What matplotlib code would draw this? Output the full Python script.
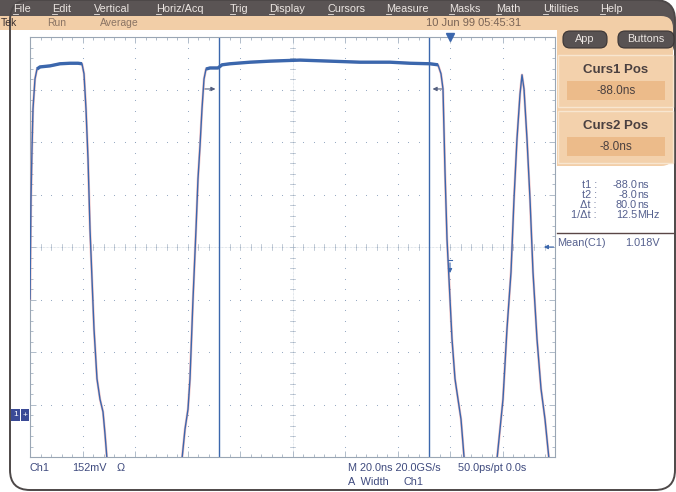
import matplotlib
matplotlib.use("Agg")
import matplotlib.pyplot as plt
import numpy as np
from matplotlib.patches import FancyBboxPatch, Rectangle

plt.rcParams["font.family"] = ["Liberation Sans", "DejaVu Sans"]

# --- waveform, time in ns, amplitude in divisions ---
trace_t = [-160.0, -159.62, -159.24, -158.86, -158.10, -157.33, -156.19, -152.38,
           -148.57, -144.76, -141.71, -140.19, -139.43, -138.67, -137.90, -137.14,
           -135.62, -134.48, -133.33, -132.19, -131.43, -130.67, -129.5, -103.6,
           -102.10, -100.95, -99.81, -99.05, -97.90, -96.76, -96.00, -95.24,
           -94.48, -93.71, -92.95, -91.43, -88.38, -86.86, -83.81, -76.19,
           -68.57, -57.14, -45.71, -34.29, -22.86, -15.24, -7.62, -4.57,
           -3.43, -2.67, -1.90, -1.14, -0.38, 0.76, 1.90, 3.05,
           4.19, 4.95, 5.71, 7.62, 16.38, 17.90, 19.05, 20.19,
           21.71, 23.24, 24.38, 25.52, 26.67, 27.43, 28.19, 29.33,
           30.48, 31.62, 33.14, 34.67, 36.19, 36.95, 37.71, 38.48]
trace_v = [-0.99, 0.91, 1.87, 2.63, 3.20, 3.39, 3.43, 3.45,
           3.49, 3.50, 3.50, 3.49, 3.30, 2.63, 1.68, 0.34,
           -1.56, -2.51, -2.90, -3.14, -3.56, -4.04, -5.2, -5.2,
           -4.04, -3.47, -3.09, -2.51, -0.99, 0.34, 1.30, 1.92,
           2.63, 3.20, 3.39, 3.41, 3.41, 3.47, 3.49, 3.52,
           3.54, 3.56, 3.54, 3.52, 3.52, 3.50, 3.49, 3.47,
           3.30, 3.01, 1.43, 0.15, -0.61, -1.75, -2.51, -2.90,
           -3.28, -3.75, -4.23, -5.2, -5.2, -4.04, -3.47, -2.90,
           -1.56, -0.48, 0.91, 2.06, 2.91, 3.28, 3.01, 2.06,
           0.91, -0.48, -1.75, -2.70, -3.28, -3.66, -4.04, -5.2]

cursor1_ns = -88.0
cursor2_ns = -8.0
mean_level_div = 0.0
trigger_ns = 0.0

menu_items = ["File", "Edit", "Vertical", "Horiz/Acq", "Trig", "Display",
              "Cursors", "Measure", "Masks", "Math", "Utilities", "Help"]
menu_x = [13, 52, 94, 156, 230, 269, 328, 386, 449, 496, 543, 600]

readout_labels = ["t1 :", "t2 :", "\u0394t :", "1/\u0394t :"]
readout_nums = ["-88.0", "-8.0", "80.0", "12.5"]
readout_units = ["ns", "ns", "ns", "MHz"]

BLUE = "#3b67ad"
DARK = "#5a5454"
BEIGE = "#f2cea7"
TXT = "#3e4a7e"
READ = "#55608e"

fig = plt.figure(figsize=(6.76, 4.92), dpi=100)
bg = fig.add_axes([0, 0, 1, 1])
bg.set_xlim(0, 676)
bg.set_ylim(492, 0)
bg.axis("off")

# frame, menu bar and beige panels
bg.add_patch(FancyBboxPatch((-30, 0), 705, 60, boxstyle="round,pad=0,rounding_size=20",
                            fc=DARK, ec="none", zorder=1))
bg.add_patch(FancyBboxPatch((-30, 16), 703, 150, boxstyle="round,pad=0,rounding_size=12",
                            fc=BEIGE, ec="none", zorder=2))
bg.add_patch(Rectangle((0, 30), 557, 462, fc="white", ec="none", zorder=3))
bg.add_patch(Rectangle((557, 166), 118, 326, fc="white", ec="none", zorder=3))
bg.add_patch(FancyBboxPatch((10, 0), 665, 490, boxstyle="round,pad=0,rounding_size=20",
                            fc="none", ec="#4d4848", lw=1.4, zorder=4))

for name, x in zip(menu_items, menu_x):
    bg.text(x, 8.5, name, color="#ece6e2", fontsize=7.8, va="center", ha="left", zorder=5)
    bg.plot([x, x + 5], [13.8, 13.8], color="#ece6e2", lw=0.6, zorder=5)

bg.text(1, 23.5, "Tek", color="#3a3030", fontsize=7.5, va="center", zorder=5)
bg.text(47, 23.5, "Run", color="#8a7464", fontsize=7.5, va="center", zorder=5)
bg.text(100, 23.5, "Average", color="#8a7464", fontsize=7.5, va="center", zorder=5)
bg.text(474, 23.5, "10 Jun 99 05:45:31", color="#7a6456", fontsize=8, va="center",
        ha="center", zorder=5)

# buttons
for x0, w, label in [(563, 44, "App"), (618, 56, "Buttons")]:
    bg.add_patch(FancyBboxPatch((x0, 31), w, 17, boxstyle="round,pad=0,rounding_size=7",
                                fc="#585252", ec="#3a3434", lw=0.8, zorder=5))
    bg.text(x0 + w / 2, 39.5, label, color="#ece6e2", fontsize=7.8, ha="center",
            va="center", zorder=6)

# cursor position boxes
for y0, title, val in [(55, "Curs1 Pos", "-88.0ns"), (111, "Curs2 Pos", "-8.0ns")]:
    bg.add_patch(Rectangle((558, y0), 115, 52, fc="#f3d1ac", ec="#f8e6d0", lw=1, zorder=5))
    bg.text(616, y0 + 15, title, color="#4a4040", fontsize=9.5, fontweight="bold",
            ha="center", va="center", zorder=6)
    bg.add_patch(Rectangle((567, y0 + 26), 98, 19, fc="#ecbb8a", ec="none", zorder=6))
    bg.text(616, y0 + 35.5, val, color="#4a4040", fontsize=8.5, ha="center", va="center",
            zorder=7)

for i, (lab, num, unit) in enumerate(zip(readout_labels, readout_nums, readout_units)):
    y = 185 + i * 10
    bg.text(597, y, lab, color=READ, fontsize=7.8, ha="right", va="center", zorder=5)
    bg.text(637, y, num, color=READ, fontsize=7.8, ha="right", va="center", zorder=5)
    bg.text(637, y, unit, color=READ, fontsize=7.8, ha="left", va="center", zorder=5)

bg.plot([557, 673], [233, 233], color="#5a4646", lw=1.0, zorder=5)
bg.text(557, 243.5, "Mean(C1)", color=READ, fontsize=7.8, va="center", zorder=5)
bg.text(660, 243.5, "1.018V", color=READ, fontsize=7.8, ha="right", va="center", zorder=5)

# bottom status text
for x, y, s in [(30, 468, "Ch1"), (72, 468, "152mV"), (117, 468, "\u03a9"),
                (348, 468, "M 20.0ns 20.0GS/s"), (458, 468, "50.0ps/pt 0.0s"),
                (348, 482, "A  Width"), (404, 482, "Ch1")]:
    bg.text(x, y, s, color=TXT, fontsize=7.8, va="center", zorder=5)

# channel 1 ground marker
bg.add_patch(Rectangle((11, 409), 9, 12, fc="#3a4a96", ec="none", zorder=5))
bg.text(15.5, 415, "1", color="white", fontsize=6, ha="center", va="center", zorder=6)
bg.add_patch(Rectangle((21, 409), 8, 12, fc="#3a4a96", ec="none", zorder=5))
bg.text(25, 415, "+", color="white", fontsize=6, ha="center", va="center", zorder=6)

# --- scope graticule ---
W, H = 676.0, 492.0
ax = fig.add_axes([30 / W, 1 - 457 / H, 525 / W, 420 / H], zorder=10)
ax.set_xlim(-160, 40)
ax.set_ylim(-4, 4)
ax.set_facecolor("none")
for sp in ax.spines.values():
    sp.set_color("#9aa6b4")
    sp.set_linewidth(0.8)
ax.set_xticks(np.arange(-160, 41, 20))
ax.set_xticks(np.arange(-160, 41, 4), minor=True)
ax.set_yticks(np.arange(-4, 4.1, 1))
ax.set_yticks(np.arange(-4, 4.1, 0.2), minor=True)
ax.tick_params(which="both", direction="in", top=True, right=True, color="#a4b2c2",
               labelbottom=False, labelleft=False, width=0.6)
ax.tick_params(which="major", length=4)
ax.tick_params(which="minor", length=2)

gx = np.arange(-140, 40, 20)
gy = np.arange(-3, 4, 1)
fine_x = np.arange(-160, 40.1, 4)
fine_y = np.arange(-4, 4.01, 0.2)
for x in gx:
    ax.scatter(np.full_like(fine_y, x), fine_y, s=0.6, color="#8aa0bc", lw=0, zorder=1)
for y in gy:
    ax.scatter(fine_x, np.full_like(fine_x, y), s=0.6, color="#8aa0bc", lw=0, zorder=1)

# center axes with ticks
ax.axhline(0, color="#c4ced8", lw=0.5, ls=(0, (1, 1)), zorder=1)
ax.axvline(-60, color="#c4ced8", lw=0.5, ls=(0, (1, 1)), zorder=1)
for x in fine_x:
    ax.plot([x, x], [-0.06, 0.06], color="#a8b6c6", lw=0.5, zorder=1)
for y in fine_y:
    ax.plot([-61.0, -59.0], [y, y], color="#a8b6c6", lw=0.5, zorder=1)

# cursors
ax.axvline(cursor1_ns, color=BLUE, lw=1.0, zorder=2)
ax.axvline(cursor2_ns, color=BLUE, lw=1.0, zorder=2)
ax.annotate("", xy=(cursor1_ns - 0.3, 3.01), xytext=(cursor1_ns - 6.5, 3.01),
            arrowprops=dict(arrowstyle="-|>", color="#556080", lw=0.8,
                            mutation_scale=6), zorder=3)
ax.annotate("", xy=(cursor2_ns + 0.3, 3.01), xytext=(cursor2_ns + 6.0, 3.01),
            arrowprops=dict(arrowstyle="-|>", color="#556080", lw=0.8,
                            mutation_scale=6), zorder=3)

# trace
tt = np.array(trace_t)
vv = np.array(trace_v)
ax.plot(tt, vv, color="#e89090", lw=1.8, alpha=0.55, zorder=4)
ax.plot(tt, vv, color=BLUE, lw=1.0, zorder=5)
top = vv > 3.35
ax.plot(np.where(top, tt, np.nan), np.where(top, vv, np.nan), color=BLUE, lw=2.4,
        zorder=6, solid_capstyle="butt")

# trigger markers
ax.plot([trigger_ns], [4.0], marker="v", ms=6, color=BLUE, clip_on=False, zorder=7)
ax.annotate("", xy=(trigger_ns, -0.55), xytext=(trigger_ns, -0.25),
            arrowprops=dict(arrowstyle="-|>", color=BLUE, lw=0.8, mutation_scale=6),
            zorder=7)
ax.plot([trigger_ns - 0.8, trigger_ns + 0.8], [-0.25, -0.25], color=BLUE, lw=0.8, zorder=7)

# mean level arrow at right edge
ax.annotate("", xy=(34.7, mean_level_div), xytext=(40.5, mean_level_div),
            arrowprops=dict(arrowstyle="-|>", color=BLUE, lw=0.8, mutation_scale=6),
            annotation_clip=False, zorder=7)

fig.savefig("out.png", dpi=100)
